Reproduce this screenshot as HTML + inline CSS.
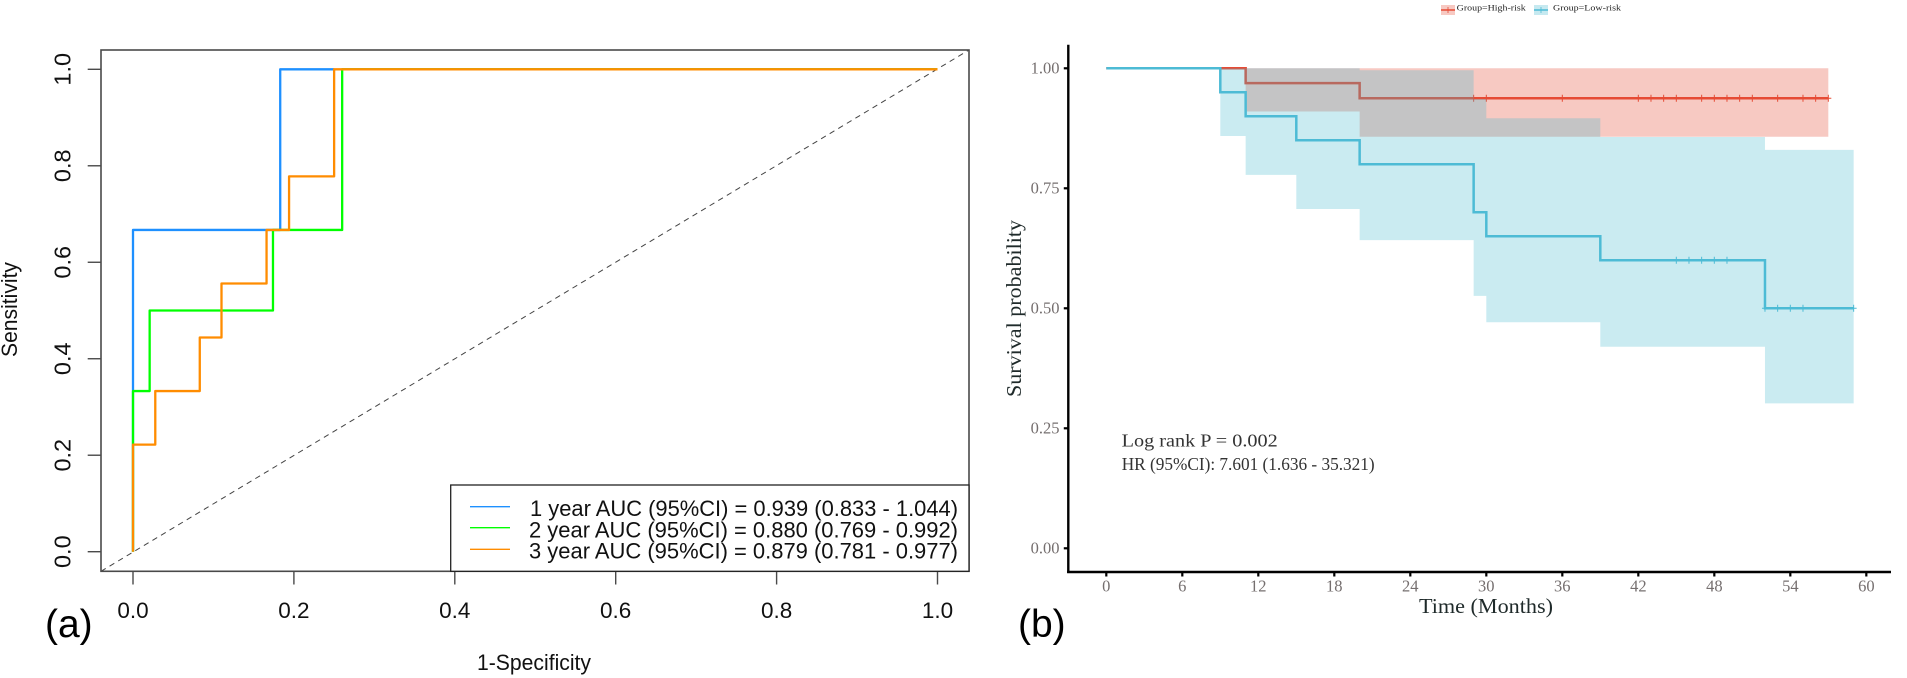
<!DOCTYPE html>
<html lang="en">
<head>
<meta charset="utf-8">
<title>ROC and survival curves</title>
<style>
html,body{margin:0;padding:0;background:#fff;width:1907px;height:678px;overflow:hidden}
svg{display:block}
.sans{font-family:"Liberation Sans",Arial,sans-serif}
.serif{font-family:"Liberation Serif","Times New Roman",serif}
</style>
</head>
<body>
<svg id="figure" xmlns="http://www.w3.org/2000/svg" width="1907" height="678" viewBox="0 0 1907 678">
  <rect x="0" y="0" width="1907" height="678" fill="#fff"/>

  <g id="roc">
    <line x1="101" y1="571.3" x2="969" y2="50" stroke="#444" stroke-width="1" stroke-dasharray="5.5 4.5"/>
    <g id="roc-curves"></g>
    <rect x="101" y="50" width="868" height="521.3" fill="none" stroke="#4a4a4a" stroke-width="1.6"/>
    <g id="roc-x-axis"></g>
    <g id="roc-y-axis"></g>
    <text class="sans" x="534" y="670" font-size="22" text-anchor="middle" textLength="114" lengthAdjust="spacingAndGlyphs" fill="#111">1-Specificity</text>
    <text class="sans" transform="translate(17 309.5) rotate(-90)" font-size="22" text-anchor="middle" textLength="95" lengthAdjust="spacingAndGlyphs" fill="#111">Sensitivity</text>
    <g>
      <rect x="450.7" y="485" width="518.3" height="86.3" fill="#fff" stroke="#222" stroke-width="1.3"/>
      <line x1="470" y1="506.7" x2="510" y2="506.7" stroke="#1E90FF" stroke-width="1.4"/>
      <text class="sans" x="530" y="516" font-size="22.5" textLength="428" lengthAdjust="spacingAndGlyphs" fill="#111">1 year AUC (95%CI) = 0.939 (0.833 - 1.044)</text>
      <line x1="470" y1="527.7" x2="510" y2="527.7" stroke="#00FF00" stroke-width="1.4"/>
      <text class="sans" x="529" y="537.3" font-size="22.5" textLength="429" lengthAdjust="spacingAndGlyphs" fill="#111">2 year AUC (95%CI) = 0.880 (0.769 - 0.992)</text>
      <line x1="470" y1="549.3" x2="510" y2="549.3" stroke="#FF8C00" stroke-width="1.4"/>
      <text class="sans" x="529" y="558.3" font-size="22.5" textLength="429" lengthAdjust="spacingAndGlyphs" fill="#111">3 year AUC (95%CI) = 0.879 (0.781 - 0.977)</text>
    </g>
    <text class="sans" x="45" y="637" font-size="39" fill="#000">(a)</text>
  </g>

  <g id="km">
    <g id="km-marks"></g>
    <line x1="1068.3" y1="44.7" x2="1068.3" y2="573" stroke="#000" stroke-width="2.4"/>
    <line x1="1067.1" y1="572" x2="1891" y2="572" stroke="#000" stroke-width="2.4"/>
    <g id="km-x-axis"></g>
    <g id="km-y-axis"></g>
    <text class="serif" x="1486" y="613" font-size="21.5" text-anchor="middle" textLength="134" lengthAdjust="spacingAndGlyphs" fill="#1f2a2a">Time (Months)</text>
    <text class="serif" transform="translate(1021 308.5) rotate(-90)" font-size="21.5" text-anchor="middle" textLength="177" lengthAdjust="spacingAndGlyphs" fill="#1f2a2a">Survival probability</text>
    <text class="serif" x="1121.7" y="446.7" font-size="18" textLength="156" lengthAdjust="spacingAndGlyphs" fill="#333">Log rank P = 0.002</text>
    <text class="serif" x="1121.7" y="470" font-size="18" textLength="253" lengthAdjust="spacingAndGlyphs" fill="#333">HR (95%CI): 7.601 (1.636 - 35.321)</text>
    <g>
      <rect x="1441" y="5" width="14" height="10" fill="#E64B35" fill-opacity="0.3"/>
      <line x1="1441" y1="10" x2="1455" y2="10" stroke="#E64B35" stroke-width="1.5"/>
      <line x1="1448" y1="7" x2="1448" y2="13" stroke="#E64B35" stroke-width="0.8"/>
      <text class="serif" x="1456.7" y="10.7" font-size="8" textLength="69" lengthAdjust="spacingAndGlyphs" fill="#222">Group=High-risk</text>
      <rect x="1534" y="5" width="14" height="10" fill="#42B7CD" fill-opacity="0.3"/>
      <line x1="1534" y1="10" x2="1548" y2="10" stroke="#4DBBD5" stroke-width="1.5"/>
      <line x1="1541" y1="7" x2="1541" y2="13" stroke="#4DBBD5" stroke-width="0.8"/>
      <text class="serif" x="1553" y="10.7" font-size="8" textLength="68" lengthAdjust="spacingAndGlyphs" fill="#222">Group=Low-risk</text>
    </g>
    <text class="sans" x="1018" y="637" font-size="39" fill="#000">(b)</text>
  </g>
</svg>

<script>
// ROC chart data
const rocTicks = [0, 0.2, 0.4, 0.6, 0.8, 1];
const rocTickLabels = ["0.0", "0.2", "0.4", "0.6", "0.8", "1.0"];
const roc1Fpr = [0, 0, 0.183, 0.183, 0.25];
const roc1Tpr = [0, 0.667, 0.667, 1, 1];
const roc2Fpr = [0, 0, 0.0207, 0.0207, 0.174, 0.174, 0.26, 0.26, 1];
const roc2Tpr = [0, 0.333, 0.333, 0.5, 0.5, 0.667, 0.667, 1, 1];
const roc3Fpr = [0, 0, 0.0277, 0.0277, 0.083, 0.083, 0.11, 0.11, 0.166, 0.166, 0.194, 0.194, 0.25, 0.25, 1];
const roc3Tpr = [0, 0.222, 0.222, 0.333, 0.333, 0.444, 0.444, 0.556, 0.556, 0.667, 0.667, 0.778, 0.778, 1, 1];

// Survival chart data
const kmXTicks = [0, 6, 12, 18, 24, 30, 36, 42, 48, 54, 60];
const kmYTicks = [0, 0.25, 0.5, 0.75, 1];
const kmYTickLabels = ["0.00", "0.25", "0.50", "0.75", "1.00"];
const highTimes = [0, 11, 20, 57];
const highSurv = [1, 0.969, 0.9375];
const highUpper = [1, 1, 1];
const highLower = [1, 0.91, 0.8575];
const highCensor = [29, 30, 36, 42, 43, 44, 45, 47, 48, 49, 50, 51, 53, 55, 56, 57];
const lowTimes = [0, 9, 11, 15, 20, 29, 30, 39, 52, 59];
const lowSurv = [1, 0.95, 0.90, 0.85, 0.80, 0.70, 0.65, 0.60, 0.50];
const lowUpper = [1, 1, 1, 1, 0.996, 0.936, 0.896, 0.857, 0.83];
const lowLower = [1, 0.859, 0.778, 0.707, 0.642, 0.526, 0.471, 0.42, 0.302];
const lowCensor = [45, 46, 47, 48, 49, 52, 53, 54, 55, 59];

const NS = "http://www.w3.org/2000/svg";
function make(parent, tag, attrs, text) {
  const el = document.createElementNS(NS, tag);
  for (const k in attrs) el.setAttribute(k, attrs[k]);
  if (text !== undefined) el.textContent = text;
  parent.appendChild(el);
  return el;
}

// ROC axis functions
const rocX = v => 133 + v * 804.5;
const rocY = v => 551.7 - v * 482.4;

function rocPath(xs, ys) {
  return xs.map((x, i) => (i ? "L" : "M") + rocX(x).toFixed(2) + " " + rocY(ys[i]).toFixed(2)).join("");
}

const rocCurves = document.getElementById("roc-curves");
const curve1 = make(rocCurves, "path", {d: rocPath(roc1Fpr, roc1Tpr), fill: "none", stroke: "#1E90FF", "stroke-width": 2.3, "stroke-linejoin": "round"});


const curve2 = make(rocCurves, "path", {d: rocPath(roc2Fpr, roc2Tpr), fill: "none", stroke: "#00FF00", "stroke-width": 2.3, "stroke-linejoin": "round"});


const curve3 = make(rocCurves, "path", {d: rocPath(roc3Fpr, roc3Tpr), fill: "none", stroke: "#FF8C00", "stroke-width": 2.3, "stroke-linejoin": "round"});



const rocXAxis = document.getElementById("roc-x-axis");
const rocYAxis = document.getElementById("roc-y-axis");
rocTicks.forEach((t, i) => {
  const xt = make(rocXAxis, "line", {x1: rocX(t), x2: rocX(t), y1: 571.3, y2: 584.5, stroke: "#4a4a4a", "stroke-width": 1.4});
  
  
  const xl = make(rocXAxis, "text", {x: rocX(t), y: 618, "font-size": 22.5, "text-anchor": "middle", fill: "#111", class: "sans"}, rocTickLabels[i]);
  
  
  const yt = make(rocYAxis, "line", {x1: 87.7, x2: 101, y1: rocY(t), y2: rocY(t), stroke: "#4a4a4a", "stroke-width": 1.4});
  
  
  const yl = make(rocYAxis, "text", {transform: "translate(70.5 " + rocY(t) + ") rotate(-90)", "font-size": 23.5, "text-anchor": "middle", fill: "#111", class: "sans"}, rocTickLabels[i]);
  
  
});

// Survival axis functions
const kmX = t => 1106.3 + t * 12.667;
const kmY = s => 548.3 - s * 480;

function stepLine(times, vals) {
  let d = "M" + kmX(times[0]).toFixed(2) + " " + kmY(vals[0]).toFixed(2);
  vals.forEach((v, i) => {
    d += "L" + kmX(times[i]).toFixed(2) + " " + kmY(v).toFixed(2);
    d += "L" + kmX(times[i + 1]).toFixed(2) + " " + kmY(v).toFixed(2);
  });
  return d;
}
function stepBand(times, upper, lower) {
  let top = "", bottom = "";
  upper.forEach((v, i) => {
    top += (i ? "L" : "M") + kmX(times[i]).toFixed(2) + " " + kmY(v).toFixed(2) + "L" + kmX(times[i + 1]).toFixed(2) + " " + kmY(v).toFixed(2);
  });
  for (let i = lower.length - 1; i >= 0; i--) {
    bottom += "L" + kmX(times[i + 1]).toFixed(2) + " " + kmY(lower[i]).toFixed(2) + "L" + kmX(times[i]).toFixed(2) + " " + kmY(lower[i]).toFixed(2);
  }
  return top + bottom + "Z";
}
function survivalAt(times, surv, t) {
  let s = surv[0];
  surv.forEach((v, i) => { if (t >= times[i]) s = v; });
  return s;
}

const kmMarks = document.getElementById("km-marks");

const highBand = make(kmMarks, "path", {d: stepBand(highTimes, highUpper, highLower), fill: "#E64B35", "fill-opacity": 0.3});


const highLine = make(kmMarks, "path", {d: stepLine(highTimes, highSurv), fill: "none", stroke: "#E64B35", "stroke-width": 2.5});


highCensor.forEach(t => {
  const s = survivalAt(highTimes, highSurv, t);
  const m = make(kmMarks, "path", {d: "M" + kmX(t) + " " + (kmY(s) - 3.5) + "v7M" + (kmX(t) - 3) + " " + kmY(s) + "h6", fill: "none", stroke: "#E64B35", "stroke-width": 1});
  
  
});

const lowBand = make(kmMarks, "path", {d: stepBand(lowTimes, lowUpper, lowLower), fill: "#42B7CD", "fill-opacity": 0.28});


const lowLine = make(kmMarks, "path", {d: stepLine(lowTimes, lowSurv), fill: "none", stroke: "#4DBBD5", "stroke-width": 2.5});


lowCensor.forEach(t => {
  const s = survivalAt(lowTimes, lowSurv, t);
  const m = make(kmMarks, "path", {d: "M" + kmX(t) + " " + (kmY(s) - 3.5) + "v7M" + (kmX(t) - 3) + " " + kmY(s) + "h6", fill: "none", stroke: "#4DBBD5", "stroke-width": 1});
  
  
});

const kmXAxis = document.getElementById("km-x-axis");
kmXTicks.forEach(t => {
  const tick = make(kmXAxis, "line", {x1: kmX(t), x2: kmX(t), y1: 572, y2: 576.5, stroke: "#000", "stroke-width": 2.2});
  
  
  const label = make(kmXAxis, "text", {x: kmX(t), y: 591.7, "font-size": 16.5, "text-anchor": "middle", fill: "#756f6f", class: "serif"}, String(t));
  
  
});
const kmYAxis = document.getElementById("km-y-axis");
kmYTicks.forEach((s, i) => {
  const tick = make(kmYAxis, "line", {x1: 1063.8, x2: 1068.3, y1: kmY(s), y2: kmY(s), stroke: "#000", "stroke-width": 2.2});
  
  
  const label = make(kmYAxis, "text", {x: 1059.5, y: kmY(s) + 5, "font-size": 16.5, "text-anchor": "end", fill: "#756f6f", class: "serif"}, kmYTickLabels[i]);
  
  
});
</script>
</body>
</html>
